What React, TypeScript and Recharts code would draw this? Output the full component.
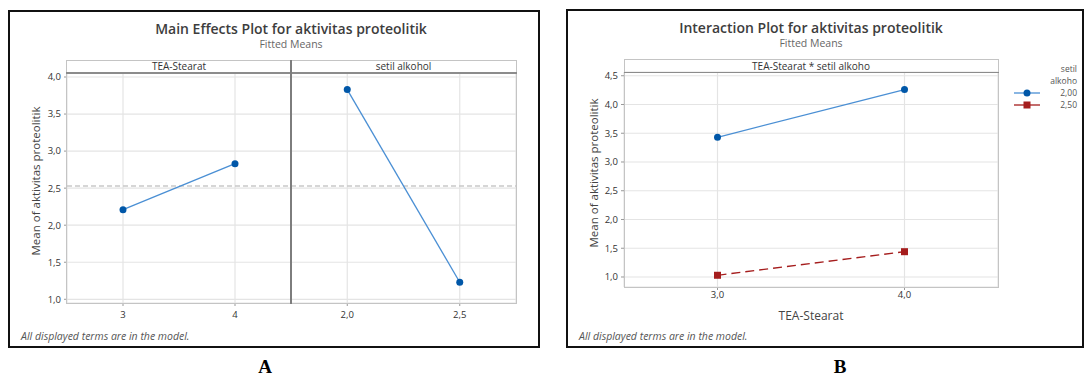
import React from 'react'
import { LineChart, Line, XAxis, YAxis, CartesianGrid, ReferenceLine, Legend } from 'recharts'

// main effects (panel A)
const teaLevels = [3, 4]
const teaMeans = [2.21, 2.83]
const setilLevels = [2.0, 2.5]
const setilMeans = [3.83, 1.23]
const overallMean = 2.53
const mainTicksY = [1, 1.5, 2, 2.5, 3, 3.5, 4]

// interaction (panel B)
const interTea = [3, 4]
const setil200 = [3.43, 4.26]
const setil250 = [1.03, 1.44]
const interTicksY = [1, 1.5, 2, 2.5, 3, 3.5, 4, 4.5]

const teaData = teaLevels.map((x, i) => ({ x, y: teaMeans[i] }))
const setilData = setilLevels.map((x, i) => ({ x, y: setilMeans[i] }))
const interData = interTea.map((x, i) => ({ x, a: setil200[i], b: setil250[i] }))

const FONT = '"Open Sans", "Noto Sans", sans-serif'
const BLUE = '#0057a8'
const BLUE_LINE = '#4a8fd4'
const RED = '#a51d1d'
const GRID = '#e4e4e4'

const comma = (d: number) => (v: number) => v.toFixed(d).replace('.', ',')
const tickStyle = { fontSize: 9.5, fill: '#333', fontFamily: FONT }

function Txt({ cx, cy, size, children, weight = 400, color = '#444', italic = false, left }: any) {
  const lh = size + 4
  const style: React.CSSProperties = {
    position: 'absolute',
    top: cy - lh / 2,
    lineHeight: `${lh}px`,
    fontSize: size,
    fontWeight: weight,
    fontStyle: italic ? 'italic' : 'normal',
    color,
    fontFamily: FONT,
    whiteSpace: 'nowrap',
  }
  if (left !== undefined) {
    style.left = left
  } else {
    style.left = cx - 250
    style.width = 500
    style.textAlign = 'center'
  }
  return <div style={style}>{children}</div>
}

function Box({ l, t, w, h, border, bg }: any) {
  return (
    <div
      style={{
        position: 'absolute',
        left: l,
        top: t,
        width: w,
        height: h,
        boxSizing: 'border-box',
        border,
        background: bg,
      }}
    />
  )
}

const yTitle = (x: number, y: number) => () => (
  <text
    x={x}
    y={y}
    transform={`rotate(-90 ${x} ${y})`}
    textAnchor="middle"
    dominantBaseline="central"
    fontSize={11.5}
    fill="#444"
    fontFamily={FONT}
  >
    Mean of aktivitas proteolitik
  </text>
)

const SquareDot = (props: any) => {
  const { cx, cy, index } = props
  return <rect key={`sq-${index}`} x={cx - 3.5} y={cy - 3.5} width={7} height={7} fill={RED} />
}

function InterLegend(props: any) {
  const payload = props.payload || []
  return (
    <div style={{ fontFamily: FONT, fontSize: 8.5, color: '#555', lineHeight: '12px' }}>
      <div style={{ textAlign: 'right' }}>setil</div>
      <div style={{ textAlign: 'right' }}>alkoho</div>
      {payload.map((p: any, i: number) => (
        <div key={i} style={{ display: 'flex', alignItems: 'center', height: 12 }}>
          <svg width={28} height={10}>
            <line x1={0} y1={5} x2={26} y2={5} stroke={i === 0 ? BLUE_LINE : RED} strokeWidth={1.3} />
            {i === 0 ? <circle cx={13} cy={5} r={3.5} fill={BLUE} /> : <rect x={9.5} y={1.5} width={7} height={7} fill={RED} />}
          </svg>
          <span style={{ flex: 1, textAlign: 'right' }}>{p.value}</span>
        </div>
      ))}
    </div>
  )
}

export default function App() {
  return (
    <div style={{ position: 'absolute', left: 0, top: 0, width: 1086, height: 378, background: '#fff', overflow: 'hidden' }}>
      {/* Panel A: left facet */}
      <div style={{ position: 'absolute', left: 0, top: 0 }}>
        <LineChart width={291} height={378} data={teaData} margin={{ top: 73, right: 0, bottom: 50, left: 0 }}>
          <CartesianGrid stroke={GRID} strokeWidth={1.2} />
          <XAxis type="number" dataKey="x" domain={[2.5, 4.5]} ticks={teaLevels} height={25} tickSize={3} tickMargin={5}
            axisLine={false} tickLine={{ stroke: '#999' }} tick={tickStyle} tickFormatter={(v: number) => String(v)} />
          <YAxis type="number" domain={[0.95, 4.054]} ticks={mainTicksY} width={67} tickSize={3} tickMargin={3}
            axisLine={false} tickLine={{ stroke: '#999' }} tick={tickStyle} tickFormatter={comma(1)} label={yTitle(35, 181)} />
          <ReferenceLine y={overallMean} stroke="#c9c9c9" strokeDasharray="5 3" strokeWidth={1.5} />
          <Line dataKey="y" stroke={BLUE_LINE} strokeWidth={1.3} dot={{ r: 3.5, fill: BLUE, stroke: BLUE, strokeWidth: 0 }}
            activeDot={false} isAnimationActive={false} />
        </LineChart>
      </div>
      {/* Panel A: right facet */}
      <div style={{ position: 'absolute', left: 291, top: 0 }}>
        <LineChart width={225} height={378} data={setilData} margin={{ top: 73, right: 0, bottom: 50, left: 0 }}>
          <CartesianGrid stroke={GRID} strokeWidth={1.2} />
          <XAxis type="number" dataKey="x" domain={[1.75, 2.75]} ticks={setilLevels} height={25} tickSize={3} tickMargin={5}
            axisLine={false} tickLine={{ stroke: '#999' }} tick={tickStyle} tickFormatter={comma(1)} />
          <YAxis type="number" domain={[0.95, 4.054]} ticks={mainTicksY} hide />
          <ReferenceLine y={overallMean} stroke="#c9c9c9" strokeDasharray="5 3" strokeWidth={1.5} />
          <Line dataKey="y" stroke={BLUE_LINE} strokeWidth={1.3} dot={{ r: 3.5, fill: BLUE, stroke: BLUE, strokeWidth: 0 }}
            activeDot={false} isAnimationActive={false} />
        </LineChart>
      </div>
      {/* Panel B */}
      <div style={{ position: 'absolute', left: 540, top: 0 }}>
        <LineChart width={546} height={378} data={interData} margin={{ top: 72, right: 88, bottom: 61, left: 0 }}>
          <CartesianGrid stroke={GRID} strokeWidth={1.2} />
          <XAxis type="number" dataKey="x" domain={[2.5, 4.5]} ticks={interTea} height={30} tickSize={3} tickMargin={1}
            axisLine={false} tickLine={{ stroke: '#999' }} tick={tickStyle} tickFormatter={comma(1)}
            label={() => (
              <text x={271} y={315} textAnchor="middle" dominantBaseline="central" fontSize={12} fill="#444" fontFamily={FONT}>
                TEA-Stearat
              </text>
            )} />
          <YAxis type="number" domain={[0.826, 4.565]} ticks={interTicksY} width={84} tickSize={3} tickMargin={3}
            axisLine={false} tickLine={{ stroke: '#999' }} tick={tickStyle} tickFormatter={comma(1)} label={yTitle(53, 173)} />
          <Legend layout="vertical" align="center" verticalAlign="middle" wrapperStyle={{ left: 474, top: 63, width: 63 }}
            content={<InterLegend />} />
          <Line name="2,00" dataKey="a" stroke={BLUE_LINE} strokeWidth={1.3} dot={{ r: 3.5, fill: BLUE, stroke: BLUE, strokeWidth: 0 }}
            activeDot={false} isAnimationActive={false} />
          <Line name="2,50" dataKey="b" stroke={RED} strokeWidth={1.3} strokeDasharray="9 5" dot={<SquareDot />}
            activeDot={false} isAnimationActive={false} />
        </LineChart>
      </div>

      {/* frames, strips */}
      <Box l={66} t={60} w={451} h={244} border="1.5px solid #c4c4c4" />
      <Box l={66} t={72} w={451} h={1.5} bg="#8c8c8c" />
      <Box l={290.3} t={60} w={1.5} h={244} bg="#7d7d7d" />
      <Box l={623.5} t={59} w={375.5} h={228.5} border="1.5px solid #c4c4c4" />
      <Box l={623.5} t={71.5} w={375.5} h={1.5} bg="#8c8c8c" />
      <Box l={8} t={10} w={532} h={338} border="2px solid #111" />
      <Box l={566} t={9} w={518} h={339} border="2px solid #111" />

      {/* texts */}
      <Txt cx={291} cy={29} size={14} weight={600} color="#3d3d3d">Main Effects Plot for aktivitas proteolitik</Txt>
      <Txt cx={291} cy={44} size={10.5} color="#666">Fitted Means</Txt>
      <Txt cx={179} cy={66} size={10} color="#333">TEA-Stearat</Txt>
      <Txt cx={403.5} cy={66} size={10} color="#333">setil alkohol</Txt>
      <Txt left={21} cy={336} size={10.5} italic color="#555">All displayed terms are in the model.</Txt>

      <Txt cx={811} cy={28} size={14} weight={600} color="#3d3d3d">Interaction Plot for aktivitas proteolitik</Txt>
      <Txt cx={811} cy={43} size={10.5} color="#666">Fitted Means</Txt>
      <Txt cx={811} cy={66} size={10} color="#333">TEA-Stearat * setil alkoho</Txt>
      <Txt left={579} cy={336} size={10.5} italic color="#555">All displayed terms are in the model.</Txt>

      <div style={{ position: 'absolute', left: 215, width: 100, top: 356, textAlign: 'center', fontFamily: '"Liberation Serif", serif', fontWeight: 700, fontSize: 19, lineHeight: '22px' }}>A</div>
      <div style={{ position: 'absolute', left: 790, width: 100, top: 356, textAlign: 'center', fontFamily: '"Liberation Serif", serif', fontWeight: 700, fontSize: 19, lineHeight: '22px' }}>B</div>
    </div>
  )
}
